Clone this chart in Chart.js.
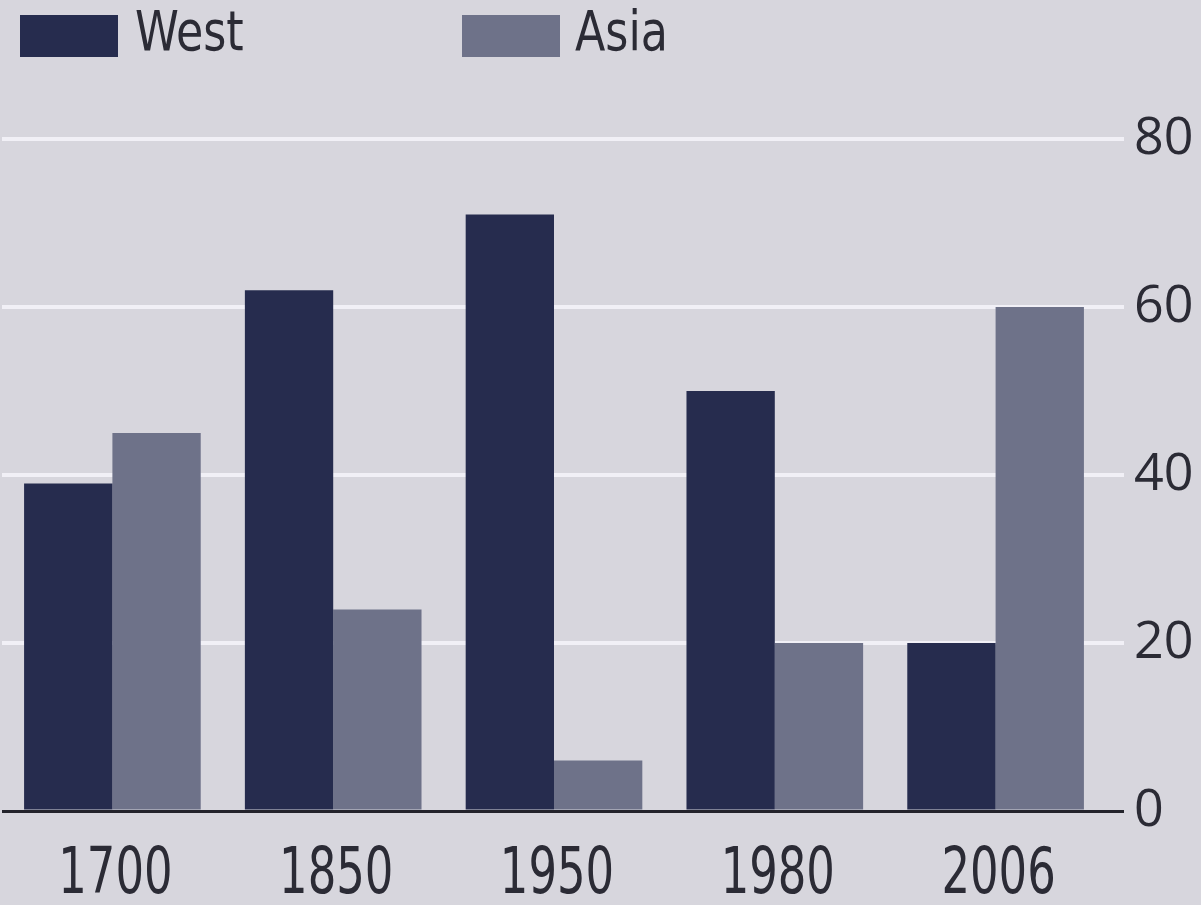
<!DOCTYPE html>
<html>
<head>
<meta charset="utf-8">
<script src="https://cdn.jsdelivr.net/npm/chart.js@4/dist/chart.umd.min.js"></script>
<style>
  html, body { margin: 0; padding: 0; background: #d7d6dd; }
  #wrap { width: 1201px; height: 905px; }
</style>
</head>
<body>
<div id="wrap"><canvas id="c" width="1201" height="905"></canvas></div>
<script>
// Years shown along the bottom
const years = ['1700', '1850', '1950', '1980', '2006'];
// Share of world output, %
const westShare = [39, 62, 71, 50, 20];
const asiaShare = [45, 24, 6, 20, 60];
// Right-hand axis
const yTicks = [0, 20, 40, 60, 80];

const BG = '#d7d6dd';
const WEST = '#262c4e';
const ASIA = '#6e7289';
const GRID = '#f1f0f6';
const INK = '#2b2b35';
const NARROW = '"DejaVu Sans Condensed", "Open Sans", sans-serif';

// Draw text squeezed horizontally, like a condensed face
function narrowText(ctx, text, x, y, squeeze, align) {
  ctx.save();
  ctx.translate(x, y);
  ctx.scale(squeeze, 1);
  ctx.textAlign = align;
  ctx.fillText(text, 0, 0);
  ctx.restore();
}

const paper = {
  id: 'paper',
  beforeDraw(chart) {
    const ctx = chart.ctx;
    ctx.save();
    ctx.fillStyle = BG;
    ctx.fillRect(0, 0, chart.width, chart.height);
    ctx.restore();
  }
};

// Legend row across the top and the year labels under the bars
const labels = {
  id: 'labels',
  afterDraw(chart) {
    const ctx = chart.ctx;
    const items = [
      { x: 20, tx: 135 },
      { x: 462, tx: 575 }
    ];
    ctx.save();
    ctx.textBaseline = 'middle';
    chart.data.datasets.forEach((ds, i) => {
      const it = items[i];
      ctx.fillStyle = ds.backgroundColor;
      ctx.fillRect(it.x, 15, 98, 42);
      ctx.fillStyle = INK;
      ctx.font = '56px ' + NARROW;
      narrowText(ctx, ds.label, it.tx, 35, 0.88, 'left');
    });

    const xs = chart.scales.x;
    ctx.fillStyle = INK;
    ctx.font = '64px ' + NARROW;
    ctx.textBaseline = 'alphabetic';
    xs.ticks.forEach((t, i) => {
      const px = xs.getPixelForTick(i);
      narrowText(ctx, xs.getLabelForValue(t.value), px + 3, 893, 0.78, 'center');
    });
    ctx.restore();
  }
};

new Chart(document.getElementById('c'), {
  type: 'bar',
  data: {
    labels: years,
    datasets: [
      { label: 'West', data: westShare, backgroundColor: WEST },
      { label: 'Asia', data: asiaShare, backgroundColor: ASIA }
    ]
  },
  options: {
    responsive: false,
    animation: false,
    devicePixelRatio: 1,
    layout: { padding: { top: 139, left: 2, right: 0, bottom: 0 } },
    plugins: { legend: { display: false }, tooltip: { enabled: false } },
    datasets: { bar: { categoryPercentage: 0.8, barPercentage: 1.0, borderWidth: 0 } },
    scales: {
      x: {
        grid: { display: false },
        border: { display: false },
        ticks: { display: false },
        afterFit(s) { s.height = 94; }
      },
      y: {
        position: 'right',
        min: 0,
        max: 80,
        afterBuildTicks(s) { s.ticks = yTicks.map(v => ({ value: v })); },
        grid: {
          color: c => (c.tick && c.tick.value === 0 ? '#23232b' : GRID),
          tickColor: c => (c.tick && c.tick.value === 0 ? '#23232b' : GRID),
          lineWidth: c => (c.tick && c.tick.value === 0 ? 3 : 4),
          tickLength: 18,
          drawTicks: true
        },
        border: { display: false },
        ticks: {
          color: INK,
          font: { family: '"Open Sans", sans-serif', size: 52 },
          padding: 10
        },
        afterFit(s) { s.width = 95; }
      }
    }
  },
  plugins: [paper, labels]
});
</script>
</body>
</html>
